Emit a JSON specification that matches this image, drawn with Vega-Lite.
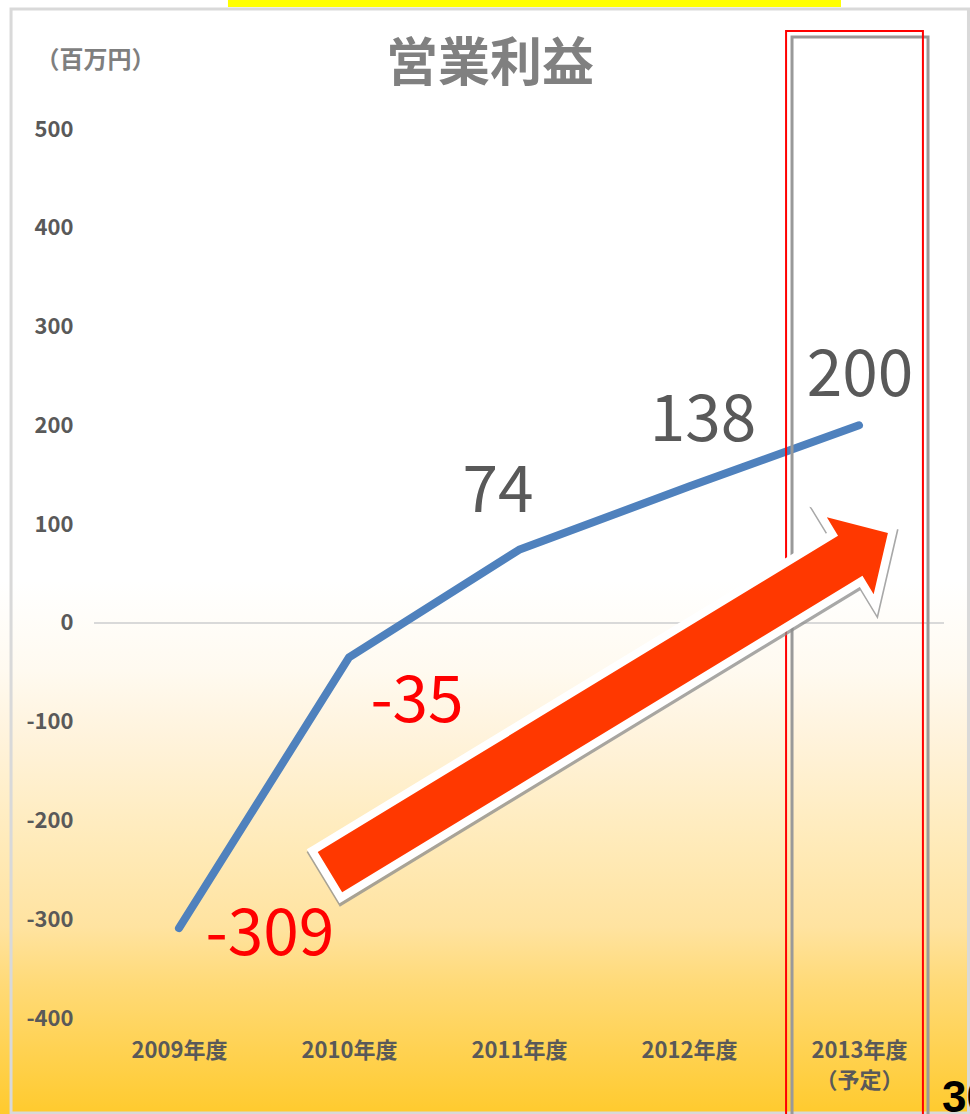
{
  "$schema": "https://vega.github.io/schema/vega-lite/v6.json",
  "width": 850,
  "height": 889,
  "autosize": {"type": "none"},
  "padding": {"left": 94, "top": 129, "right": 26, "bottom": 96},
  "background": "#FFFFFF",
  "title": {
    "text": "営業利益",
    "font": "Noto Sans CJK JP",
    "fontSize": 52,
    "fontWeight": "bold",
    "color": "#808080",
    "anchor": "middle",
    "frame": "group",
    "dx": -29,
    "baseline": "bottom",
    "offset": -144
  },
  "config": {"view": {"stroke": null}, "font": "Noto Sans CJK JP"},
  "data": {
    "values": [
      {"yr": 2009, "v": -309},
      {"yr": 2010, "v": -35},
      {"yr": 2011, "v": 74},
      {"yr": 2012, "v": 138},
      {"yr": 2013, "v": 200}
    ]
  },
  "layer": [
    {
      "data": {"values": [{}]},
      "mark": {
        "type": "rect",
        "color": {
          "gradient": "linear",
          "x1": 0, "y1": 0, "x2": 0, "y2": 1,
          "stops": [
            {"offset": 0, "color": "#FFFFFF"},
            {"offset": 0.52, "color": "#FFFFFF"},
            {"offset": 0.6, "color": "#FFFAF0"},
            {"offset": 0.66, "color": "#FFF3DC"},
            {"offset": 0.75, "color": "#FFEBBB"},
            {"offset": 0.83, "color": "#FFE3A0"},
            {"offset": 0.88, "color": "#FFDA78"},
            {"offset": 1, "color": "#FFCA2C"}
          ]
        }
      },
      "encoding": {
        "x": {"datum": 2007.9, "type": "quantitative", "scale": {"domain": [2008.5, 2013.5], "nice": false, "zero": false}},
        "x2": {"datum": 2013.7},
        "y": {"datum": 630.6, "type": "quantitative", "scale": {"domain": [-400, 500], "nice": false, "zero": false}},
        "y2": {"datum": -500}
      }
    },
    {
      "data": {"values": [{}]},
      "mark": {"type": "rect", "filled": false, "stroke": "#D9D9D9", "strokeWidth": 3},
      "encoding": {
        "x": {"datum": 2008.012, "type": "quantitative", "scale": {"domain": [2008.5, 2013.5], "nice": false, "zero": false}},
        "x2": {"datum": 2013.644},
        "y": {"datum": 621.5, "type": "quantitative", "scale": {"domain": [-400, 500], "nice": false, "zero": false}},
        "y2": {"datum": -496.2}
      }
    },
    {
      "data": {"values": [{}]},
      "mark": {"type": "rect", "fill": "#FFFF00"},
      "encoding": {
        "x": {"datum": 2009.288, "type": "quantitative", "scale": {"domain": [2008.5, 2013.5], "nice": false, "zero": false}},
        "x2": {"datum": 2012.894},
        "y": {"datum": 630.6, "type": "quantitative", "scale": {"domain": [-400, 500], "nice": false, "zero": false}},
        "y2": {"datum": 623.5}
      }
    },
    {
      "data": {"values": [{}]},
      "mark": {"type": "rule", "color": "#D9D9D9", "strokeWidth": 2},
      "encoding": {
        "y": {"datum": 0, "type": "quantitative", "scale": {"domain": [-400, 500], "nice": false, "zero": false}}
      }
    },
    {
      "mark": {"type": "line", "color": "#4F81BD", "strokeWidth": 8, "strokeCap": "round", "strokeJoin": "round"},
      "encoding": {
        "x": {
          "field": "yr",
          "type": "quantitative",
          "scale": {"domain": [2008.5, 2013.5], "nice": false, "zero": false},
          "axis": {
            "title": null,
            "orient": "bottom",
            "zindex": 2,
            "values": [2009, 2010, 2011, 2012, 2013],
            "labelExpr": "datum.value == 2013 ? ['2013年度', '（予定）'] : datum.value + '年度'",
            "labelFont": "Noto Sans CJK JP",
            "labelFontSize": 22,
            "labelFontWeight": "bold",
            "labelColor": "#595959",
            "labelLineHeight": 30,
            "labelPadding": 22,
            "labelFlush": false,
            "labelOverlap": false,
            "domain": false,
            "ticks": false,
            "tickSize": 0,
            "grid": false
          }
        },
        "y": {
          "field": "v",
          "type": "quantitative",
          "scale": {"domain": [-400, 500], "nice": false, "zero": false},
          "axis": {
            "title": "（百万円）",
            "zindex": 2,
            "titleAngle": 0,
            "titleX": 1,
            "titleY": -69,
            "titleAlign": "center",
            "titleBaseline": "middle",
            "titleFont": "Noto Sans CJK JP",
            "titleFontSize": 24,
            "titleFontWeight": "bold",
            "titleColor": "#7F7F7F",
            "values": [-400, -300, -200, -100, 0, 100, 200, 300, 400, 500],
            "labelExpr": "'' + datum.value",
            "labelFont": "Noto Sans CJK JP",
            "labelFontSize": 22,
            "labelFontWeight": "bold",
            "labelColor": "#595959",
            "labelPadding": 21,
            "labelFlush": false,
            "labelOverlap": false,
            "domain": false,
            "ticks": false,
            "tickSize": 0,
            "grid": false
          }
        }
      }
    },
    {
      "data": {"values": [{}]},
      "mark": {"type": "rect", "filled": false, "stroke": "#999999", "strokeWidth": 3},
      "encoding": {
        "x": {"datum": 2012.606, "type": "quantitative", "scale": {"domain": [2008.5, 2013.5], "nice": false, "zero": false}},
        "x2": {"datum": 2013.406},
        "y": {"datum": 593.1, "type": "quantitative", "scale": {"domain": [-400, 500], "nice": false, "zero": false}},
        "y2": {"datum": -510}
      }
    },
    {
      "data": {"values": [{}]},
      "mark": {"type": "rect", "filled": false, "stroke": "#FF0000", "strokeWidth": 2},
      "encoding": {
        "x": {"datum": 2012.571, "type": "quantitative", "scale": {"domain": [2008.5, 2013.5], "nice": false, "zero": false}},
        "x2": {"datum": 2013.376},
        "y": {"datum": 599.2, "type": "quantitative", "scale": {"domain": [-400, 500], "nice": false, "zero": false}},
        "y2": {"datum": -510}
      }
    },
    {
      "data": {"values": [{}]},
      "mark": {
        "type": "point",
        "shape": "M -1 -0.072 L 0.865 -0.072 L 0.865 -0.138 L 1 0 L 0.865 0.138 L 0.865 0.072 L -1 0.072 Z",
        "size": 426409,
        "angle": 328.7,
        "filled": true,
        "fill": "#8C8C8C",
        "stroke": "#8C8C8C",
        "strokeWidth": 17,
        "strokeJoin": "miter",
        "opacity": 0.75
      },
      "encoding": {
        "x": {"datum": 2011.532, "type": "quantitative", "scale": {"domain": [2008.5, 2013.5], "nice": false, "zero": false}},
        "y": {"datum": -83.4, "type": "quantitative", "scale": {"domain": [-400, 500], "nice": false, "zero": false}}
      }
    },
    {
      "data": {"values": [{}]},
      "mark": {
        "type": "point",
        "shape": "M -1 -0.072 L 0.865 -0.072 L 0.865 -0.138 L 1 0 L 0.865 0.138 L 0.865 0.072 L -1 0.072 Z",
        "size": 426409,
        "angle": 328.7,
        "filled": true,
        "fill": "#FFFFFF",
        "stroke": "#FFFFFF",
        "strokeWidth": 16,
        "strokeJoin": "miter",
        "opacity": 1
      },
      "encoding": {
        "x": {"datum": 2011.529, "type": "quantitative", "scale": {"domain": [2008.5, 2013.5], "nice": false, "zero": false}},
        "y": {"datum": -80.6, "type": "quantitative", "scale": {"domain": [-400, 500], "nice": false, "zero": false}}
      }
    },
    {
      "data": {"values": [{}]},
      "mark": {
        "type": "point",
        "shape": "M -1 -0.072 L 0.865 -0.072 L 0.865 -0.138 L 1 0 L 0.865 0.138 L 0.865 0.072 L -1 0.072 Z",
        "size": 426409,
        "angle": 328.7,
        "filled": true,
        "fill": "#FF3800",
        "strokeWidth": 0,
        "opacity": 1
      },
      "encoding": {
        "x": {"datum": 2011.529, "type": "quantitative", "scale": {"domain": [2008.5, 2013.5], "nice": false, "zero": false}},
        "y": {"datum": -80.6, "type": "quantitative", "scale": {"domain": [-400, 500], "nice": false, "zero": false}}
      }
    },
    {
      "transform": [{"filter": "datum.yr == 2009"}],
      "mark": {"type": "text", "font": "Noto Sans CJK JP", "fontSize": 64, "color": "#FF0000", "dx": 91, "dy": 8},
      "encoding": {
        "x": {"field": "yr", "type": "quantitative", "scale": {"domain": [2008.5, 2013.5], "nice": false, "zero": false}},
        "y": {"field": "v", "type": "quantitative", "scale": {"domain": [-400, 500], "nice": false, "zero": false}},
        "text": {"field": "v", "type": "nominal"}
      }
    },
    {
      "transform": [{"filter": "datum.yr == 2010"}],
      "mark": {"type": "text", "font": "Noto Sans CJK JP", "fontSize": 64, "color": "#FF0000", "dx": 68, "dy": 46},
      "encoding": {
        "x": {"field": "yr", "type": "quantitative", "scale": {"domain": [2008.5, 2013.5], "nice": false, "zero": false}},
        "y": {"field": "v", "type": "quantitative", "scale": {"domain": [-400, 500], "nice": false, "zero": false}},
        "text": {"field": "v", "type": "nominal"}
      }
    },
    {
      "transform": [{"filter": "datum.yr == 2011"}],
      "mark": {"type": "text", "font": "Noto Sans CJK JP", "fontSize": 64, "color": "#595959", "dx": -21, "dy": -57},
      "encoding": {
        "x": {"field": "yr", "type": "quantitative", "scale": {"domain": [2008.5, 2013.5], "nice": false, "zero": false}},
        "y": {"field": "v", "type": "quantitative", "scale": {"domain": [-400, 500], "nice": false, "zero": false}},
        "text": {"field": "v", "type": "nominal"}
      }
    },
    {
      "transform": [{"filter": "datum.yr == 2012"}],
      "mark": {"type": "text", "font": "Noto Sans CJK JP", "fontSize": 64, "color": "#595959", "dx": 14, "dy": -65},
      "encoding": {
        "x": {"field": "yr", "type": "quantitative", "scale": {"domain": [2008.5, 2013.5], "nice": false, "zero": false}},
        "y": {"field": "v", "type": "quantitative", "scale": {"domain": [-400, 500], "nice": false, "zero": false}},
        "text": {"field": "v", "type": "nominal"}
      }
    },
    {
      "transform": [{"filter": "datum.yr == 2013"}],
      "mark": {"type": "text", "font": "Noto Sans CJK JP", "fontSize": 64, "color": "#595959", "dx": 1, "dy": -48},
      "encoding": {
        "x": {"field": "yr", "type": "quantitative", "scale": {"domain": [2008.5, 2013.5], "nice": false, "zero": false}},
        "y": {"field": "v", "type": "quantitative", "scale": {"domain": [-400, 500], "nice": false, "zero": false}},
        "text": {"field": "v", "type": "nominal"}
      }
    },
    {
      "data": {"values": [{"page": "30"}]},
      "mark": {"type": "text", "font": "Liberation Sans", "fontSize": 44, "fontWeight": "bold", "color": "#000000", "align": "left", "baseline": "alphabetic"},
      "encoding": {
        "x": {"datum": 2013.488, "type": "quantitative", "scale": {"domain": [2008.5, 2013.5], "nice": false, "zero": false}},
        "y": {"datum": -495.2, "type": "quantitative", "scale": {"domain": [-400, 500], "nice": false, "zero": false}},
        "text": {"field": "page", "type": "nominal"}
      }
    }
  ]
}
